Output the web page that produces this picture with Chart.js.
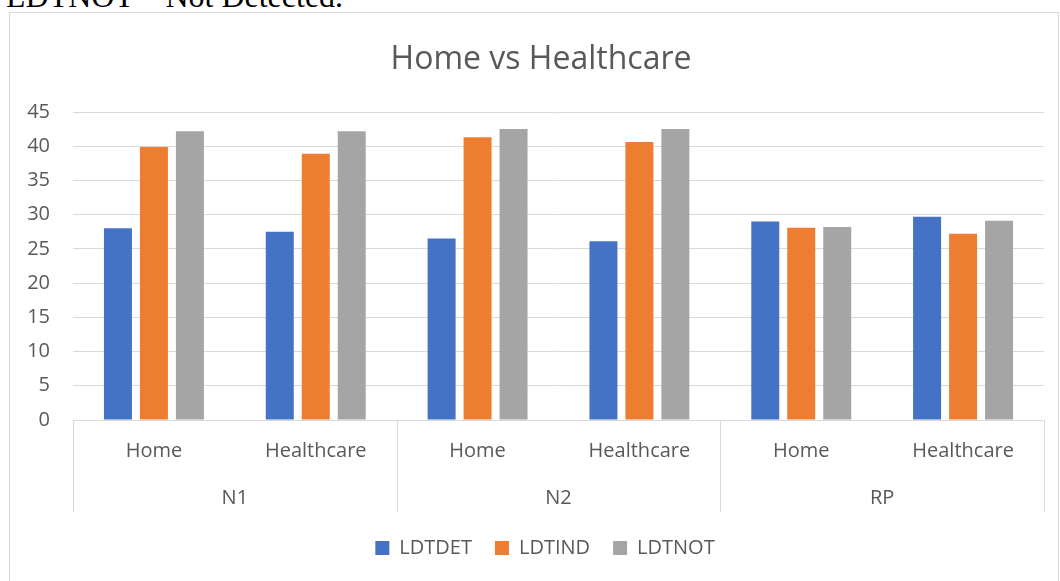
<!DOCTYPE html>
<html>
<head>
<meta charset="utf-8">
<script src="https://cdn.jsdelivr.net/npm/chart.js"></script>
<style>
  body { margin: 0; background: #fff; }
  #wrap { position: relative; width: 1060px; height: 581px; overflow: hidden; }
  #note { position: absolute; left: 6px; top: -20px; font: 32px/32px "Liberation Serif", "Times New Roman", serif; color: #000; white-space: nowrap; }
  #frame { position: absolute; left: 9px; top: 12px; right: 1px; height: 600px; border: 1px solid #d9d9d9; box-sizing: border-box; }
  #grafico { position: absolute; left: 0; top: 0; }
</style>
</head>
<body>
<div id="wrap">
  <div id="note">LDTNOT – Not Detected.</div>
  <div id="frame"></div>
  <canvas id="grafico" width="1060" height="581"></canvas>
</div>
<script>
// dados do grafico
var grupos = ["N1", "N2", "RP"];
var subcategorias = ["Home", "Healthcare"];
var ldtdet = [28.0, 27.5, 26.5, 26.1, 29.0, 29.7];
var ldtind = [39.9, 38.9, 41.3, 40.6, 28.1, 27.2];
var ldtnot = [42.2, 42.2, 42.5, 42.5, 28.2, 29.1];
var ticksY = [0, 5, 10, 15, 20, 25, 30, 35, 40, 45];

var rotulos = [];
grupos.forEach(function (g) {
  subcategorias.forEach(function (s) { rotulos.push(s); });
});

var corTexto = "#595959";
var corGrade = "#d9d9d9";
var fonte = "'Open Sans', 'Noto Sans', sans-serif";

// segundo nivel do eixo X (N1, N2, RP) com linhas separadoras
var gruposPlugin = {
  id: "grupos",
  afterLayout: function (chart) {
    // titulo e legenda um pouco deslocados para a direita, como no original
    chart.legend.left += 36;
    chart.titleBlock.left += 28;
  },
  afterDraw: function (chart) {
    var ctx = chart.ctx;
    var x = chart.scales.x;
    var topo = chart.chartArea.bottom;
    var fundo = topo + 92;
    var passo = x.getPixelForValue(1) - x.getPixelForValue(0);
    var n = subcategorias.length;
    ctx.save();
    ctx.strokeStyle = corGrade;
    ctx.lineWidth = 1;
    ctx.fillStyle = corTexto;
    ctx.font = "20px " + fonte;
    ctx.textAlign = "center";
    ctx.textBaseline = "middle";
    grupos.forEach(function (g, i) {
      var esq = x.getPixelForValue(i * n) - passo / 2;
      var dir = x.getPixelForValue(i * n + n - 1) + passo / 2;
      [esq, dir].forEach(function (px) {
        var p = Math.round(px) + 0.5;
        ctx.beginPath();
        ctx.moveTo(p, topo);
        ctx.lineTo(p, fundo);
        ctx.stroke();
      });
      ctx.fillText(g, (esq + dir) / 2, topo + 78);
    });
    ctx.restore();
  }
};

var grafico = new Chart(document.getElementById("grafico").getContext("2d"), {
  type: "bar",
  data: {
    labels: rotulos,
    datasets: [
      { label: "LDTDET", data: ldtdet, backgroundColor: "#4472C4" },
      { label: "LDTIND", data: ldtind, backgroundColor: "#ED7D31" },
      { label: "LDTNOT", data: ldtnot, backgroundColor: "#A5A5A5" }
    ]
  },
  options: {
    responsive: false,
    animation: false,
    devicePixelRatio: 1,
    categoryPercentage: 0.667,
    barPercentage: 0.778,
    layout: { padding: { left: 10, right: 16, top: 12, bottom: 13 } },
    plugins: {
      title: {
        display: true,
        text: "Home vs Healthcare",
        color: corTexto,
        font: { family: fonte, size: 32, weight: "normal" },
        padding: { top: 28.8, bottom: 32.8 }
      },
      legend: {
        position: "bottom",
        labels: {
          color: corTexto,
          font: { family: fonte, size: 20 },
          boxWidth: 14,
          boxHeight: 14,
          padding: 23
        }
      },
      tooltip: { enabled: false }
    },
    scales: {
      x: {
        grid: { display: false },
        border: { display: true, color: corGrade },
        ticks: { color: corTexto, font: { family: fonte, size: 20 }, padding: 11, maxRotation: 0 },
        afterFit: function (s) { s.height = 95; }
      },
      y: {
        min: 0,
        max: 45,
        afterBuildTicks: function (s) { s.ticks = ticksY.map(function (v) { return { value: v }; }); },
        grid: { color: corGrade, drawTicks: false },
        border: { display: false },
        ticks: { color: corTexto, font: { family: fonte, size: 20 }, padding: 23 },
        afterFit: function (s) { s.width = 63; }
      }
    }
  },
  plugins: [gruposPlugin]
});
</script>
</body>
</html>
